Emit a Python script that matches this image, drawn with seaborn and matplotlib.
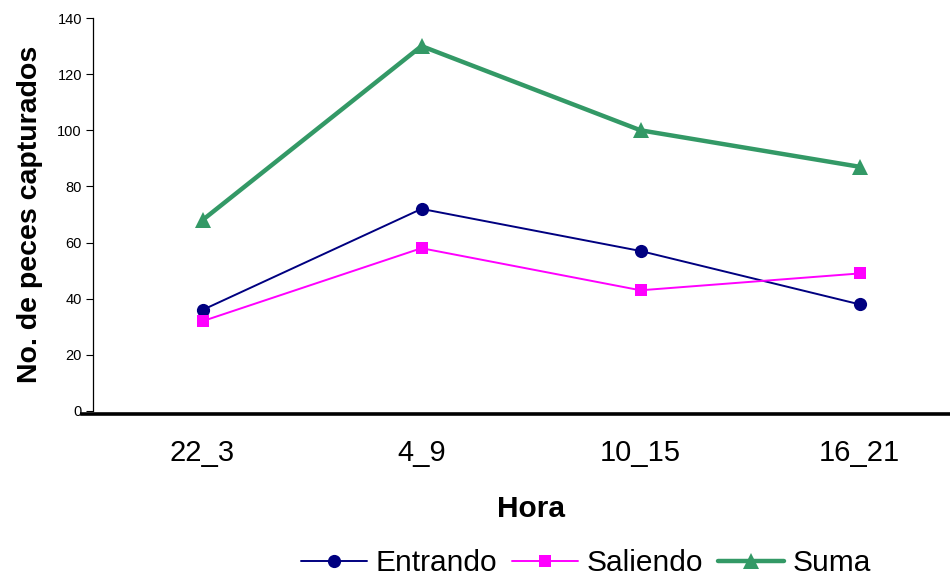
import matplotlib
matplotlib.use("Agg")
import matplotlib.pyplot as plt
import seaborn as sns
import pandas as pd

# Catch data by time window
horas = ["22_3", "4_9", "10_15", "16_21"]
entrando = [36, 72, 57, 38]
saliendo = [32, 58, 43, 49]
suma = [68, 130, 100, 87]

sns.set_theme(style="white")
plt.rcParams["font.family"] = ["Liberation Sans", "DejaVu Sans"]
plt.rcParams["text.color"] = "black"

df = pd.DataFrame({
    "Hora": horas * 3,
    "x": list(range(len(horas))) * 3,
    "valor": entrando + saliendo + suma,
    "serie": ["Entrando"] * 4 + ["Saliendo"] * 4 + ["Suma"] * 4,
})

fig = plt.figure(figsize=(9.5, 5.83), dpi=100)
ax = fig.add_axes([93 / 950, 1 - 411 / 583, 876 / 950, 393 / 583])

styles = {
    "Entrando": dict(color="#000080", marker="o", lw=1.4, ms=9.5),
    "Saliendo": dict(color="#FF00FF", marker="s", lw=1.4, ms=9),
    "Suma": dict(color="#339966", marker="^", lw=3.2, ms=12),
}
for name, st in styles.items():
    sub = df[df["serie"] == name]
    sns.lineplot(data=sub, x="x", y="valor", ax=ax, color=st["color"],
                 marker=st["marker"], linewidth=st["lw"], markersize=st["ms"],
                 markeredgewidth=0, label=name, legend=False)

ax.set_xlim(-0.5, 3.5)
ax.set_ylim(0, 140)
ax.set_yticks(range(0, 141, 20))
ax.set_xticks(range(len(horas)))
ax.set_xticklabels(horas)
ax.tick_params(axis="y", labelsize=10.5, length=5, width=0.8, direction="out",
               left=True, pad=3, colors="black")
ax.tick_params(axis="x", labelsize=21, length=0, pad=18, colors="black")

for s in ["top", "right"]:
    ax.spines[s].set_visible(False)
ax.spines["left"].set_color("black")
ax.spines["left"].set_linewidth(0.9)
ax.spines["bottom"].set_color("black")
ax.spines["bottom"].set_linewidth(2.6)
ax.spines["bottom"].set_position(("outward", 2))
ax.spines["bottom"].set_bounds(-0.55, 3.5)

ax.set_ylabel("No. de peces capturados", fontsize=20.5, fontweight="bold",
              color="black", labelpad=10)
ax.set_xlabel("Hora", fontsize=21.5, fontweight="bold", color="black", labelpad=20)

handles, labels = ax.get_legend_handles_labels()
fig.legend(handles, labels, loc="center", bbox_to_anchor=(0.617, 1 - 563 / 583),
           ncol=3, frameon=False, fontsize=21.5, handlelength=2.2,
           handletextpad=0.3, columnspacing=0.5, labelcolor="black")

fig.savefig("out.png", dpi=100)
